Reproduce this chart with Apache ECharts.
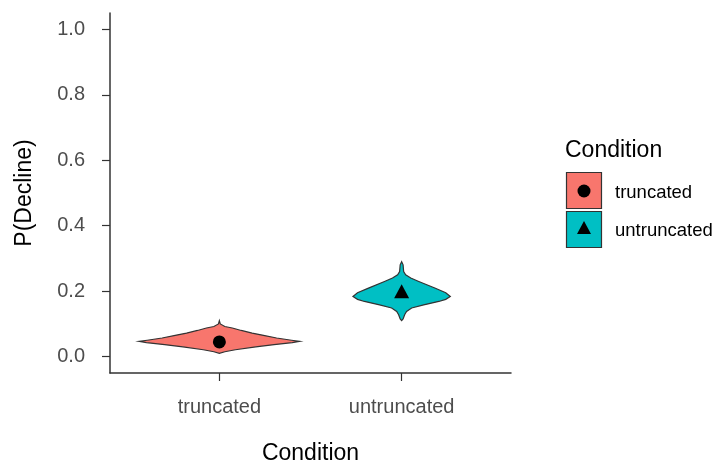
<!DOCTYPE html>
<html><head><meta charset="utf-8">
<script src="https://cdn.jsdelivr.net/npm/echarts@6/dist/echarts.min.js"></script>
<style>html,body{margin:0;padding:0;background:#fff}#c{width:719px;height:470px}</style>
</head><body><div id="c"></div>
<script>
var categories = ['truncated', 'untruncated'];
var pointValues = [0.045, 0.200];
var yTicks = [0.0, 0.2, 0.4, 0.6, 0.8, 1.0];
// violin density profiles: y values and half-widths (category units)
var truncY =     [0.110, 0.100, 0.092, 0.0875, 0.080, 0.072, 0.065, 0.057, 0.050, 0.0466, 0.043, 0.0366, 0.030, 0.021, 0.015, 0.010];
var truncHalfW = [0.000, 0.005, 0.030, 0.071, 0.120, 0.180, 0.242, 0.314, 0.396, 0.440, 0.400, 0.300, 0.200, 0.088, 0.030, 0.000];
var untrY =      [0.290, 0.2805, 0.260, 0.250, 0.240, 0.2296, 0.2095, 0.195, 0.1838, 0.175, 0.1686, 0.158, 0.1485, 0.138, 0.128, 0.115, 0.110];
var untrHalfW =  [0.000, 0.008, 0.011, 0.022, 0.050, 0.094, 0.182, 0.242, 0.267, 0.242, 0.204, 0.121, 0.055, 0.027, 0.0165, 0.008, 0.000];
var colors = ['#F8766D', '#00BFC4'];

var violins = [
  {x: 1, ys: truncY, ws: truncHalfW},
  {x: 2, ys: untrY, ws: untrHalfW}
];

var chart = echarts.init(document.getElementById('c'));
var font = 'Liberation Sans, Arial, sans-serif';

chart.setOption({
  animation: false,
  grid: {left: 110, top: 13, width: 401, height: 361},
  xAxis: {
    type: 'value', min: 0.4, max: 2.6,
    splitLine: {show: false},
    axisLine: {show: true, onZero: false, lineStyle: {color: '#333', width: 1.5}},
    axisTick: {show: true, customValues: [1, 2], length: 8, lineStyle: {color: '#333', width: 1.2}},
    axisLabel: {customValues: [1, 2], margin: 24, color: '#4D4D4D', fontSize: 20, fontFamily: font,
      formatter: function (v) { return categories[Math.round(v) - 1] || ''; }},
    name: 'Condition', nameLocation: 'middle', nameGap: 69,
    nameTextStyle: {color: '#000', fontSize: 23, fontFamily: font}
  },
  yAxis: {
    type: 'value', min: -0.05, max: 1.05,
    splitLine: {show: false},
    axisLine: {show: true, onZero: false, lineStyle: {color: '#333', width: 1.5}},
    axisTick: {show: true, customValues: yTicks, length: 8, lineStyle: {color: '#333', width: 1.2}},
    axisLabel: {customValues: yTicks, margin: 25, color: '#4D4D4D', fontSize: 20, fontFamily: font,
      formatter: function (v) { return v.toFixed(1); }},
    name: 'P(Decline)', nameLocation: 'middle', nameGap: 74,
    nameTextStyle: {color: '#000', fontSize: 23, fontFamily: font}
  },
  series: [
    {
      type: 'custom',
      data: violins.map(function (v, i) { return [v.x, i]; }),
      renderItem: function (params, api) {
        var i = api.value(1);
        var v = violins[i];
        var pts = [];
        for (var k = 0; k < v.ys.length; k++) pts.push(api.coord([v.x - v.ws[k], v.ys[k]]));
        for (var k = v.ys.length - 1; k >= 0; k--) pts.push(api.coord([v.x + v.ws[k], v.ys[k]]));
        return {type: 'polygon', shape: {points: pts, smooth: 0},
          style: {fill: colors[i], stroke: '#333', lineWidth: 1.2}};
      },
      z: 2
    },
    {
      type: 'scatter',
      data: [
        {value: [1, pointValues[0]], symbol: 'circle', symbolSize: 13},
        {value: [2, pointValues[1]], symbol: 'triangle', symbolSize: [15, 14]}
      ],
      itemStyle: {color: '#000', opacity: 1},
      z: 3
    }
  ],
  graphic: [
    {type: 'text', x: 565, y: 139, style: {text: 'Condition', fill: '#000', font: '23px ' + font}},
    {type: 'rect', shape: {x: 566.5, y: 172.5, width: 35, height: 36}, style: {fill: colors[0], stroke: '#333', lineWidth: 1.2}},
    {type: 'circle', shape: {cx: 584, cy: 191, r: 6.5}, style: {fill: '#000'}},
    {type: 'text', x: 615, y: 183, style: {text: 'truncated', fill: '#000', font: '18.5px ' + font}},
    {type: 'rect', shape: {x: 566.5, y: 211.5, width: 35, height: 36}, style: {fill: colors[1], stroke: '#333', lineWidth: 1.2}},
    {type: 'polygon', shape: {points: [[584, 221], [591, 234], [577, 234]]}, style: {fill: '#000'}},
    {type: 'text', x: 615, y: 221, style: {text: 'untruncated', fill: '#000', font: '18.5px ' + font}}
  ]
});
</script></body></html>
